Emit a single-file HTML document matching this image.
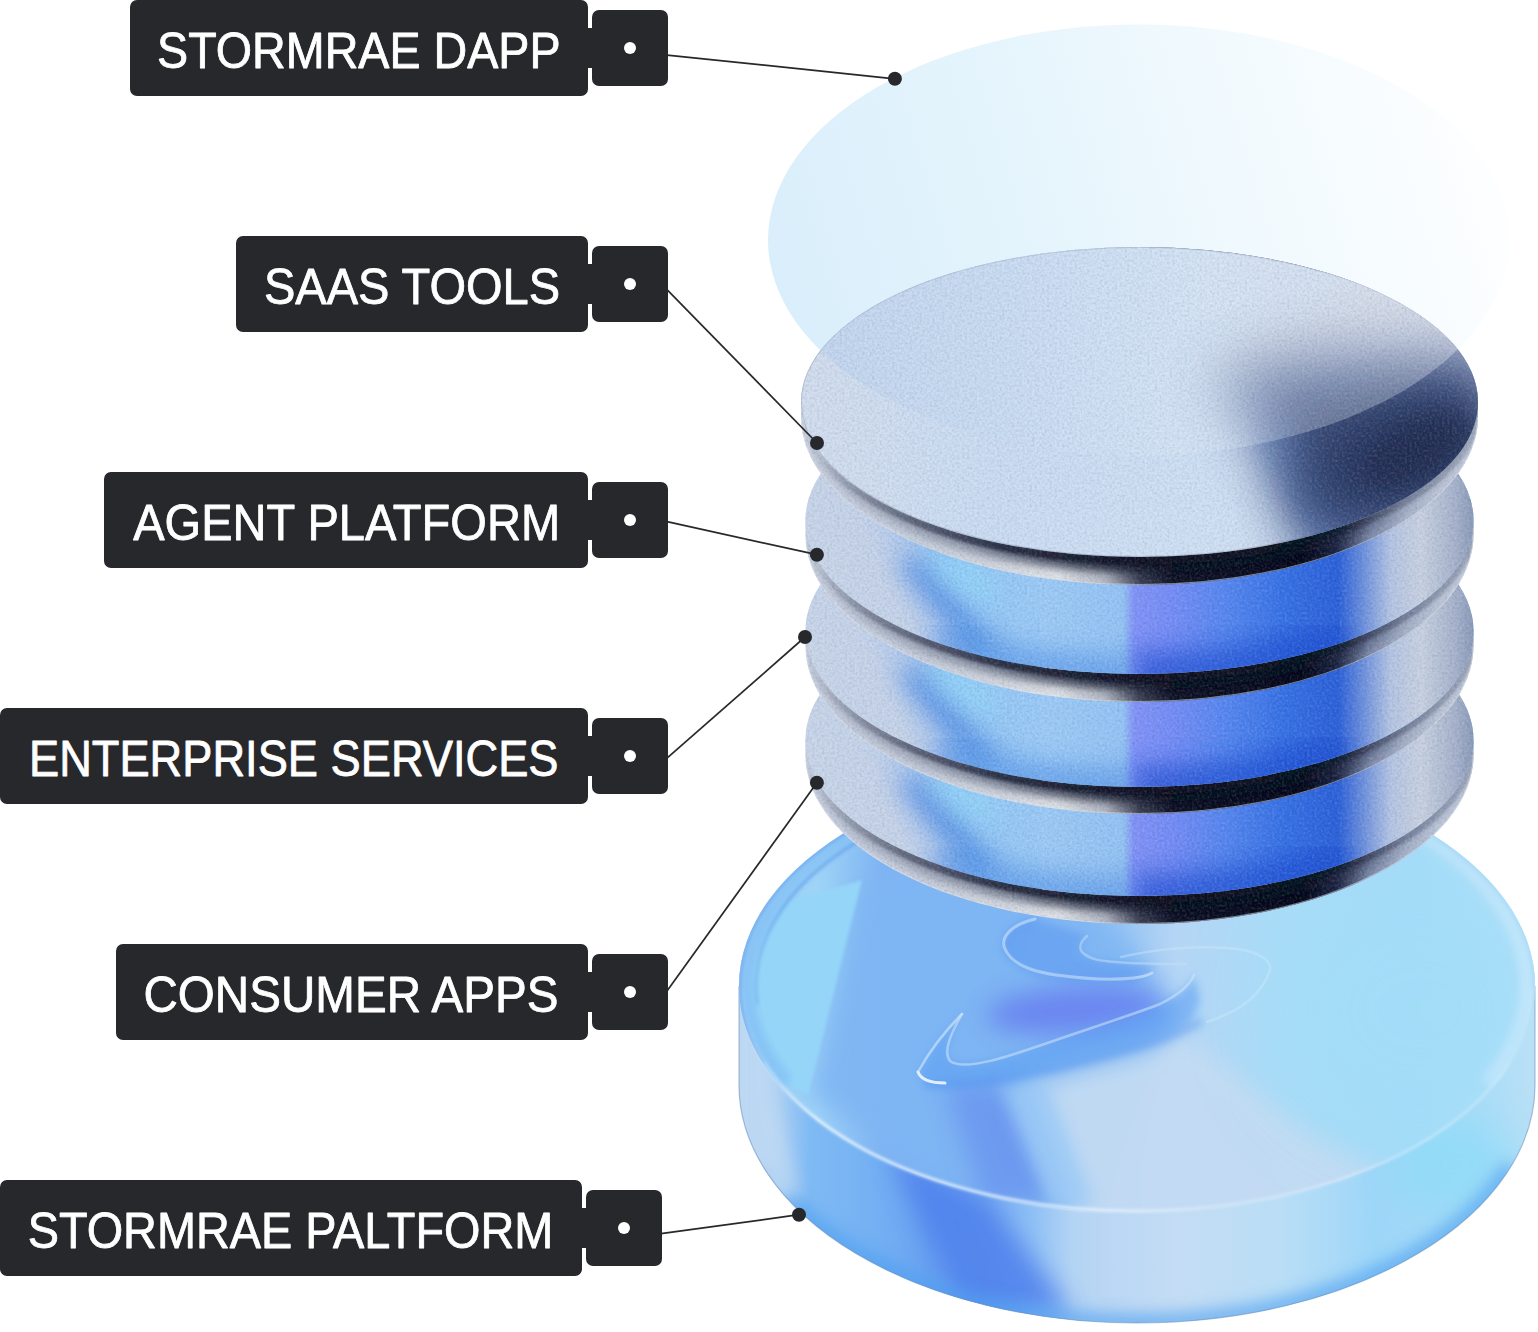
<!DOCTYPE html><html><head><meta charset="utf-8"><title>Stormrae stack</title>
<style>html,body{margin:0;padding:0;background:#fff}svg{display:block}text{font-family:"Liberation Sans",sans-serif;fill:#fff}</style></head><body>
<svg width="1538" height="1332" viewBox="0 0 1538 1332">
<defs>
<filter id="b1" x="-50%" y="-50%" width="200%" height="200%"><feGaussianBlur stdDeviation="0.7"/></filter>
<filter id="b2" x="-50%" y="-50%" width="200%" height="200%"><feGaussianBlur stdDeviation="1.5"/></filter>
<filter id="b4" x="-50%" y="-50%" width="200%" height="200%"><feGaussianBlur stdDeviation="4"/></filter>
<filter id="b8" x="-50%" y="-50%" width="200%" height="200%"><feGaussianBlur stdDeviation="8"/></filter>
<filter id="b12" x="-50%" y="-50%" width="200%" height="200%"><feGaussianBlur stdDeviation="12"/></filter>
<filter id="b20" x="-50%" y="-50%" width="200%" height="200%"><feGaussianBlur stdDeviation="20"/></filter>
<filter id="b30" x="-50%" y="-50%" width="200%" height="200%"><feGaussianBlur stdDeviation="30"/></filter>
<filter id="b45" x="-50%" y="-50%" width="200%" height="200%"><feGaussianBlur stdDeviation="45"/></filter>
<linearGradient id="rim" gradientUnits="userSpaceOnUse" x1="801" y1="0" x2="1478" y2="0">
<stop offset="0" stop-color="#d3dbe9"/>
<stop offset="0.08" stop-color="#cdd5e4"/>
<stop offset="0.18" stop-color="#c8d0dd"/>
<stop offset="0.28" stop-color="#d2d7e0"/>
<stop offset="0.38" stop-color="#e0e3e8"/>
<stop offset="0.45" stop-color="#b2b7c2"/>
<stop offset="0.50" stop-color="#3b4052"/>
<stop offset="0.55" stop-color="#0c1024"/>
<stop offset="0.74" stop-color="#04071a"/>
<stop offset="0.79" stop-color="#1a2340"/>
<stop offset="0.84" stop-color="#7f8cab"/>
<stop offset="0.89" stop-color="#a7b3ca"/>
<stop offset="0.94" stop-color="#bec8da"/>
<stop offset="1" stop-color="#c6cfdf"/>
</linearGradient>
<linearGradient id="rimtop" gradientUnits="userSpaceOnUse" x1="801" y1="0" x2="1478" y2="0">
<stop offset="0" stop-color="#8d99b0" stop-opacity="0.1"/>
<stop offset="0.08" stop-color="#7c879d" stop-opacity="0.4"/>
<stop offset="0.25" stop-color="#5b657c" stop-opacity="0.65"/>
<stop offset="0.36" stop-color="#3b4358" stop-opacity="0.85"/>
<stop offset="0.46" stop-color="#1c2236" stop-opacity="0.95"/>
<stop offset="0.55" stop-color="#060a1c" stop-opacity="1"/>
<stop offset="0.74" stop-color="#04071a" stop-opacity="1"/>
<stop offset="0.82" stop-color="#2a3350" stop-opacity="0.5"/>
<stop offset="0.90" stop-color="#6f7c9a" stop-opacity="0.15"/>
<stop offset="1" stop-color="#6f7c9a" stop-opacity="0.05"/>
</linearGradient>
<linearGradient id="rimthin" gradientUnits="userSpaceOnUse" x1="801" y1="0" x2="1478" y2="0">
<stop offset="0" stop-color="#2a3048" stop-opacity="0"/>
<stop offset="0.06" stop-color="#2a3048" stop-opacity="0.2"/>
<stop offset="0.15" stop-color="#262c44" stop-opacity="0.48"/>
<stop offset="0.30" stop-color="#1a2036" stop-opacity="0.85"/>
<stop offset="0.5" stop-color="#0a0e20" stop-opacity="0.9"/>
<stop offset="0.8" stop-color="#0a0e20" stop-opacity="0.5"/>
<stop offset="0.9" stop-color="#2a3350" stop-opacity="0.35"/>
<stop offset="1" stop-color="#4a5572" stop-opacity="0.3"/>
</linearGradient>
<linearGradient id="cresL" gradientUnits="userSpaceOnUse" x1="800" y1="80" x2="1100" y2="-40">
<stop offset="0" stop-color="#cad7ea"/>
<stop offset="0.27" stop-color="#c6d4ea"/>
<stop offset="0.36" stop-color="#b2cbef"/>
<stop offset="0.46" stop-color="#94c6f6"/>
<stop offset="0.60" stop-color="#98c9f7"/>
<stop offset="1" stop-color="#9ccbf7"/>
</linearGradient>
<linearGradient id="cresR" gradientUnits="userSpaceOnUse" x1="1040" y1="0" x2="1478" y2="0">
<stop offset="0" stop-color="#9ccbf7"/>
<stop offset="0.19" stop-color="#93c3f5"/>
<stop offset="0.215" stop-color="#8092f8"/>
<stop offset="0.30" stop-color="#748cf7"/>
<stop offset="0.42" stop-color="#5586f0"/>
<stop offset="0.56" stop-color="#3570e6"/>
<stop offset="0.68" stop-color="#2a60da"/>
<stop offset="0.74" stop-color="#6f92de"/>
<stop offset="0.80" stop-color="#b4c5e4"/>
<stop offset="0.87" stop-color="#c9d2e2"/>
<stop offset="0.95" stop-color="#a5b2cb"/>
<stop offset="1" stop-color="#8393b4"/>
</linearGradient>
<linearGradient id="face1" gradientUnits="userSpaceOnUse" x1="801" y1="0" x2="1478" y2="0">
<stop offset="0" stop-color="#d2deef"/>
<stop offset="0.3" stop-color="#cbddf3"/>
<stop offset="0.6" stop-color="#cfe0f4"/>
<stop offset="1" stop-color="#cad5e8"/>
</linearGradient>
<linearGradient id="glass" gradientUnits="userSpaceOnUse" x1="780" y1="330" x2="1480" y2="120">
<stop offset="0" stop-color="#d9eefb"/>
<stop offset="0.35" stop-color="#e4f4fc"/>
<stop offset="0.7" stop-color="#f2fafe"/>
<stop offset="1" stop-color="#fdfeff"/>
</linearGradient>
<linearGradient id="glassov" gradientUnits="userSpaceOnUse" x1="800" y1="0" x2="1480" y2="0">
<stop offset="0" stop-color="#a9c9ee" stop-opacity="0.4"/>
<stop offset="0.35" stop-color="#c9def4" stop-opacity="0.32"/>
<stop offset="0.6" stop-color="#e6f0fa" stop-opacity="0.24"/>
<stop offset="1" stop-color="#f0f4fa" stop-opacity="0.34"/>
</linearGradient>
<linearGradient id="bside" gradientUnits="userSpaceOnUse" x1="738" y1="0" x2="1536" y2="0">
<stop offset="0" stop-color="#b4d3f2"/>
<stop offset="0.05" stop-color="#a9cef3"/>
<stop offset="0.09" stop-color="#80baf4"/>
<stop offset="0.17" stop-color="#74b0f3"/>
<stop offset="0.24" stop-color="#6aa4f1"/>
<stop offset="0.31" stop-color="#74aaf2"/>
<stop offset="0.37" stop-color="#8fc0f5"/>
<stop offset="0.42" stop-color="#b4d4f4"/>
<stop offset="0.55" stop-color="#c4dcf4"/>
<stop offset="0.68" stop-color="#b9def6"/>
<stop offset="0.80" stop-color="#9dd6f8"/>
<stop offset="0.92" stop-color="#a9dcf8"/>
<stop offset="1" stop-color="#b9e0f6"/>
</linearGradient>
<linearGradient id="btop" gradientUnits="userSpaceOnUse" x1="738" y1="0" x2="1536" y2="0">
<stop offset="0" stop-color="#9dcff6"/>
<stop offset="0.10" stop-color="#9fd4f7"/>
<stop offset="0.18" stop-color="#7fb4f3"/>
<stop offset="0.32" stop-color="#78aef3"/>
<stop offset="0.45" stop-color="#8fbff4"/>
<stop offset="0.55" stop-color="#b5d6f5"/>
<stop offset="0.68" stop-color="#a9dcf7"/>
<stop offset="0.85" stop-color="#a4dcf8"/>
<stop offset="1" stop-color="#b0e0f8"/>
</linearGradient>
<linearGradient id="hl" gradientUnits="userSpaceOnUse" x1="738" y1="0" x2="1536" y2="0">
<stop offset="0" stop-color="#eaf5fd" stop-opacity="0"/>
<stop offset="0.03" stop-color="#eaf5fd" stop-opacity="0.35"/>
<stop offset="0.1" stop-color="#eaf5fd" stop-opacity="0.9"/>
<stop offset="0.45" stop-color="#eaf5fd" stop-opacity="0.85"/>
<stop offset="0.6" stop-color="#eaf5fd" stop-opacity="0.45"/>
<stop offset="1" stop-color="#eaf5fd" stop-opacity="0.3"/>
</linearGradient>
<linearGradient id="ringA" gradientUnits="userSpaceOnUse" x1="738" y1="0" x2="1536" y2="0">
<stop offset="0" stop-color="#84c0f5" stop-opacity="0.85"/>
<stop offset="0.45" stop-color="#8cc6f6" stop-opacity="0.8"/>
<stop offset="0.75" stop-color="#b5e0f9" stop-opacity="0.75"/>
<stop offset="1" stop-color="#c6e8fb" stop-opacity="0.8"/>
</linearGradient>
<linearGradient id="ringB" gradientUnits="userSpaceOnUse" x1="738" y1="0" x2="1536" y2="0">
<stop offset="0" stop-color="#5a96e6" stop-opacity="0.1"/>
<stop offset="0.06" stop-color="#5a96e6" stop-opacity="0.5"/>
<stop offset="0.4" stop-color="#5a96e6" stop-opacity="0.45"/>
<stop offset="0.7" stop-color="#7ab6ee" stop-opacity="0.1"/>
<stop offset="1" stop-color="#7ab6ee" stop-opacity="0"/>
</linearGradient>
<linearGradient id="ringC" gradientUnits="userSpaceOnUse" x1="738" y1="0" x2="1536" y2="0">
<stop offset="0" stop-color="#6aa4ea" stop-opacity="0.7"/>
<stop offset="0.4" stop-color="#6aa4ea" stop-opacity="0.55"/>
<stop offset="0.75" stop-color="#8cc6f2" stop-opacity="0.25"/>
<stop offset="1" stop-color="#9cd0f4" stop-opacity="0.3"/>
</linearGradient>
<clipPath id="cf0"><ellipse cx="1139.5" cy="402" rx="338.5" ry="155"/></clipPath>
<clipPath id="cf1"><ellipse cx="1139.5" cy="520" rx="334" ry="154"/></clipPath>
<clipPath id="cf2"><ellipse cx="1139.5" cy="631" rx="334" ry="156"/></clipPath>
<clipPath id="cf3"><ellipse cx="1139.5" cy="740" rx="334" ry="156"/></clipPath>
<clipPath id="cfl0"><ellipse cx="1139.5" cy="0" rx="338.5" ry="155"/></clipPath>
<clipPath id="cfl1"><ellipse cx="1139.5" cy="0" rx="334" ry="154"/></clipPath>
<clipPath id="cfl2"><ellipse cx="1139.5" cy="0" rx="334" ry="156"/></clipPath>
<clipPath id="cfl3"><ellipse cx="1139.5" cy="0" rx="334" ry="156"/></clipPath>
<clipPath id="cbt"><ellipse cx="1137" cy="986" rx="398" ry="226"/></clipPath>
<clipPath id="cbody"><path d="M739,986 V1085 A398,238 0 0 0 1535,1085 V986 A398,226 0 0 0 739,986 Z"/></clipPath>
<filter id="grain" x="0" y="0" width="100%" height="100%" color-interpolation-filters="sRGB">
<feTurbulence type="fractalNoise" baseFrequency="0.4" numOctaves="2" seed="7" result="n"/>
<feColorMatrix in="n" type="matrix" values="0 0 0 0 0.05  0 0 0 0 0.08  0 0 0 0 0.2  1.5 1.5 0 0 -1.25"/>
</filter>
<filter id="grainW" x="0" y="0" width="100%" height="100%" color-interpolation-filters="sRGB">
<feTurbulence type="fractalNoise" baseFrequency="0.4" numOctaves="2" seed="23" result="n"/>
<feColorMatrix in="n" type="matrix" values="0 0 0 0 1  0 0 0 0 1  0 0 0 0 1  1.5 1.5 0 0 -1.25"/>
</filter>
</defs>
<ellipse cx="1138.5" cy="240" rx="370.5" ry="215.5" fill="url(#glass)"/>
<g clip-path="url(#cbody)">
<rect x="700" y="760" width="860" height="600" fill="url(#bside)"/>
<path d="M888,1150 L985,1198 L1072,1312 L960,1312 Z" fill="#4f80ec" opacity="0.85" filter="url(#b12)"/>
<ellipse cx="1455" cy="1165" rx="60" ry="45" fill="#8adcf8" opacity="0.7" filter="url(#b20)"/>
<path d="M763.0,1166.4 A398,238 0 0 0 1511.0,1166.4" fill="none" stroke="#4e9ff0" stroke-width="16" opacity="0.75" filter="url(#b8)"/>
<path d="M730,985 L770,1000 L776,1100 L798,1195 L730,1215 Z" fill="#bfd9f3" opacity="0.85" filter="url(#b8)"/>
</g>
<path d="M739,986 V1085 A398,238 0 0 0 1535,1085 V986" fill="none" stroke="#6a8fc0" stroke-width="1.2" opacity="0.55"/>
<ellipse cx="1137" cy="986" rx="398" ry="226" fill="url(#btop)"/>
<g clip-path="url(#cbt)">
<path d="M862,880 L1010,850 L1130,940 L1180,1020 L1085,1215 L960,1190 L808,1095 Z" fill="#7fb6f3" opacity="0.9" filter="url(#b12)"/>
<path d="M740,1000 L775,905 L862,880 L808,1095 L760,1070 Z" fill="#95d6f8" opacity="0.95" filter="url(#b2)"/>
<ellipse cx="1075" cy="1010" rx="88" ry="24" transform="rotate(-4 1075 1010)" fill="#6982f0" opacity="0.9" filter="url(#b12)"/>
<path d="M945,1085 L1012,1085 L1064,1200 L985,1205 Z" fill="#6a95ef" opacity="0.85" filter="url(#b12)"/>
<path d="M1030,1084 L1130,1057 L1190,1036 L1300,1126 L1440,1207 L1440,1290 L1078,1290 L1070,1201 Z" fill="#c3dbf3" opacity="0.95" filter="url(#b12)"/>
<path d="M1000,1086 L1045,1080 L1095,1205 L1050,1208 Z" fill="#9ccaf6" opacity="0.8" filter="url(#b8)"/>
<ellipse cx="1420" cy="1010" rx="140" ry="120" fill="#a2ddf8" opacity="0.7" filter="url(#b45)"/>
</g>
<g clip-path="url(#cbt)">
<path d="M783.5,1079.0 A390,220 0 1 1 1490.5,1079.0" fill="none" stroke="url(#ringA)" stroke-width="15" stroke-linecap="round" filter="url(#b4)"/>
<path d="M757.4,1004.6 A381,213 0 1 1 1516.6,1004.6" fill="none" stroke="url(#ringB)" stroke-width="3.5" filter="url(#b2)"/>
<path d="M763.9,1063.0 A397,225 0 1 1 1510.1,1063.0" fill="none" stroke="url(#ringC)" stroke-width="3" filter="url(#b2)"/>
</g>
<path d="M742,989 A395,222 0 0 0 1532,989" fill="none" stroke="url(#hl)" stroke-width="3" filter="url(#b2)"/>
<g fill="none" stroke-linecap="round" stroke-linejoin="round">
<path d="M918,1073 C930,1050 948,1028 962,1014 C950,1035 944,1052 950,1060 C965,1072 1010,1055 1056,1040 C1100,1025 1140,1012 1160,1004 C1180,994 1190,985 1194,975 L1200,1000 C1195,1015 1190,1022 1186,1025 C1170,1034 1150,1041 1134,1046 C1100,1056 1060,1066 1030,1072 C990,1080 950,1086 926,1082 Z" fill="#5b9ff3" stroke="none" opacity="0.55" filter="url(#b4)"/>
<path d="M926,1084 C960,1088 1000,1080 1032,1074 C1070,1066 1105,1057 1136,1048 C1160,1041 1180,1034 1200,1022" stroke="#3f86ee" stroke-width="5" opacity="0.55" filter="url(#b4)"/>
<path d="M918,1072 C921,1080 930,1083 945,1083" stroke="#eef7fe" stroke-width="3" opacity="0.9"/>
<path d="M918,1072 C930,1050 948,1028 962,1014" stroke="#d6eafb" stroke-width="2.5" opacity="0.6" filter="url(#b1)"/>
<path d="M962,1014 C950,1035 943,1052 950,1061 C965,1072 1010,1056 1056,1040 C1100,1025 1140,1012 1160,1004 C1180,994 1190,985 1194,975" stroke="#cfe6fa" stroke-width="2.5" opacity="0.55" filter="url(#b1)"/>
<path d="M1035,919 C1010,925 1000,938 1005,949 C1012,965 1035,972 1056,975 C1085,979 1115,980 1134,978 C1142,977 1148,975 1152,973 L1150,966 C1140,966 1128,964 1116,962 C1102,961 1090,960 1082,952 C1079,948 1080,942 1087,936 Z" fill="#5a96f0" stroke="none" opacity="0.5" filter="url(#b4)"/>
<path d="M1035,919 C1010,925 1000,938 1005,949 C1012,965 1035,972 1056,975 C1085,979 1115,980 1134,978 C1142,977 1148,975 1152,973" stroke="#d3e9fb" stroke-width="3" opacity="0.65" filter="url(#b1)"/>
<path d="M1035,922 C1012,928 1003,940 1008,951 C1015,967 1037,975 1058,978 C1087,982 1117,983 1136,981" stroke="#4f8cf0" stroke-width="5" opacity="0.35" filter="url(#b4)"/>
<path d="M1087,936 C1080,942 1079,948 1082,952 C1090,960 1102,961 1116,962 C1140,964 1165,964 1186,964" stroke="#c5e0f8" stroke-width="2.5" opacity="0.5" filter="url(#b1)"/>
<path d="M1121,957 C1160,948 1205,945 1238,949 C1262,953 1274,962 1269,973 C1265,984 1258,992 1251,999 C1238,1010 1222,1017 1207,1022" stroke="#d0eafb" stroke-width="2.5" opacity="0.4" filter="url(#b1)"/>
</g>
<clipPath id="cr3"><path d="M805.5,740 V755 A334,169 0 0 0 1473.5,755 V740 A334,156 0 0 0 805.5,740 Z"/></clipPath>
<path d="M805.5,740 V755 A334,169 0 0 0 1473.5,755 V740 A334,156 0 0 0 805.5,740 Z" fill="url(#rim)"/>
<g clip-path="url(#cr3)"><path d="M805.5,743 A334,160 0 0 0 1473.5,743" fill="none" stroke="url(#rimtop)" stroke-width="17.36" filter="url(#b4)"/>
<path d="M805.5,741 A334,158 0 0 0 1473.5,741" fill="none" stroke="url(#rimthin)" stroke-width="9.520000000000001" filter="url(#b2)"/>
<path d="M805.5,755 A334,169 0 0 0 1473.5,755" fill="none" stroke="#dfe4ec" stroke-width="2" opacity="0.55"/></g>
<g transform="translate(0,740)"><ellipse cx="1139.5" cy="0" rx="334" ry="156" fill="url(#cresL)"/>
<g clip-path="url(#cfl3)"><rect x="1040" y="-200" width="500" height="400" fill="url(#cresR)"/>
<path d="M896,40 L926,40 L1000,132 L970,132 Z" fill="#4a89e4" opacity="0.85" filter="url(#b12)"/>
<ellipse cx="965" cy="58" rx="42" ry="14" transform="rotate(36 965 58)" fill="#93d7fb" opacity="0.9" filter="url(#b12)"/>
<path d="M1134,156.0 A334,156 0 0 0 1345,123.0" fill="none" stroke="#1c4ed2" stroke-width="44" opacity="0.7" filter="url(#b12)"/>
<path d="M935,123.3 A334,156 0 0 0 1128,155.9" fill="none" stroke="#4d8fe8" stroke-width="34" opacity="0.6" filter="url(#b12)"/>
</g></g>
<clipPath id="cr2"><path d="M805.5,631 V646 A334,168 0 0 0 1473.5,646 V631 A334,156 0 0 0 805.5,631 Z"/></clipPath>
<path d="M805.5,631 V646 A334,168 0 0 0 1473.5,646 V631 A334,156 0 0 0 805.5,631 Z" fill="url(#rim)"/>
<g clip-path="url(#cr2)"><path d="M805.5,634 A334,160 0 0 0 1473.5,634" fill="none" stroke="url(#rimtop)" stroke-width="16.74" filter="url(#b4)"/>
<path d="M805.5,632 A334,158 0 0 0 1473.5,632" fill="none" stroke="url(#rimthin)" stroke-width="9.180000000000001" filter="url(#b2)"/>
<path d="M805.5,646 A334,168 0 0 0 1473.5,646" fill="none" stroke="#dfe4ec" stroke-width="2" opacity="0.55"/></g>
<g transform="translate(0,631)"><ellipse cx="1139.5" cy="0" rx="334" ry="156" fill="url(#cresL)"/>
<g clip-path="url(#cfl2)"><rect x="1040" y="-200" width="500" height="400" fill="url(#cresR)"/>
<path d="M896,40 L926,40 L1000,132 L970,132 Z" fill="#4a89e4" opacity="0.85" filter="url(#b12)"/>
<ellipse cx="965" cy="58" rx="42" ry="14" transform="rotate(36 965 58)" fill="#93d7fb" opacity="0.9" filter="url(#b12)"/>
<path d="M1134,156.0 A334,156 0 0 0 1345,123.0" fill="none" stroke="#1c4ed2" stroke-width="44" opacity="0.7" filter="url(#b12)"/>
<path d="M935,123.3 A334,156 0 0 0 1128,155.9" fill="none" stroke="#4d8fe8" stroke-width="34" opacity="0.6" filter="url(#b12)"/>
</g></g>
<clipPath id="cr1"><path d="M805.5,520 V535 A334,167 0 0 0 1473.5,535 V520 A334,154 0 0 0 805.5,520 Z"/></clipPath>
<path d="M805.5,520 V535 A334,167 0 0 0 1473.5,535 V520 A334,154 0 0 0 805.5,520 Z" fill="url(#rim)"/>
<g clip-path="url(#cr1)"><path d="M805.5,523 A334,158 0 0 0 1473.5,523" fill="none" stroke="url(#rimtop)" stroke-width="17.36" filter="url(#b4)"/>
<path d="M805.5,521 A334,156 0 0 0 1473.5,521" fill="none" stroke="url(#rimthin)" stroke-width="9.520000000000001" filter="url(#b2)"/>
<path d="M805.5,535 A334,167 0 0 0 1473.5,535" fill="none" stroke="#dfe4ec" stroke-width="2" opacity="0.55"/></g>
<g transform="translate(0,520)"><ellipse cx="1139.5" cy="0" rx="334" ry="154" fill="url(#cresL)"/>
<g clip-path="url(#cfl1)"><rect x="1040" y="-200" width="500" height="400" fill="url(#cresR)"/>
<path d="M896,40 L926,40 L1000,132 L970,132 Z" fill="#4a89e4" opacity="0.85" filter="url(#b12)"/>
<ellipse cx="965" cy="58" rx="42" ry="14" transform="rotate(36 965 58)" fill="#93d7fb" opacity="0.9" filter="url(#b12)"/>
<path d="M1134,154.0 A334,154 0 0 0 1345,121.4" fill="none" stroke="#1c4ed2" stroke-width="44" opacity="0.7" filter="url(#b12)"/>
<path d="M935,121.8 A334,154 0 0 0 1128,153.9" fill="none" stroke="#4d8fe8" stroke-width="34" opacity="0.6" filter="url(#b12)"/>
</g></g>
<clipPath id="cr0"><path d="M801.0,402 V417 A338.5,168 0 0 0 1478.0,417 V402 A338.5,155 0 0 0 801.0,402 Z"/></clipPath>
<path d="M801.0,402 V417 A338.5,168 0 0 0 1478.0,417 V402 A338.5,155 0 0 0 801.0,402 Z" fill="url(#rim)"/>
<g clip-path="url(#cr0)"><path d="M801.0,405 A338.5,159 0 0 0 1478.0,405" fill="none" stroke="url(#rimtop)" stroke-width="17.36" filter="url(#b4)"/>
<path d="M801.0,403 A338.5,157 0 0 0 1478.0,403" fill="none" stroke="url(#rimthin)" stroke-width="9.520000000000001" filter="url(#b2)"/>
<path d="M801.0,417 A338.5,168 0 0 0 1478.0,417" fill="none" stroke="#dfe4ec" stroke-width="2" opacity="0.55"/></g>
<ellipse cx="1139.5" cy="402" rx="338.5" ry="155" fill="url(#face1)"/>
<ellipse cx="1139.5" cy="402" rx="338.0" ry="154.5" fill="none" stroke="#8f9bb2" stroke-width="1" opacity="0.45"/>
<g clip-path="url(#cf0)">
<path d="M1200,380 L1400,250 L1500,330 L1480,380 Z" fill="#d0d6e2" opacity="0.6" filter="url(#b20)"/>
<path d="M1215,375 L1330,352 L1500,350 L1500,495 L1365,572 L1325,568 L1268,440 Z" fill="#43578a" opacity="0.9" filter="url(#b30)"/>
<path d="M1255,420 L1300,430 L1375,560 L1318,566 Z" fill="#4a6cb2" opacity="0.6" filter="url(#b20)"/>
<path d="M1285,408 L1400,392 L1465,392 L1480,470 L1320,480 Z" fill="#34446e" opacity="0.6" filter="url(#b20)"/>
<ellipse cx="1395" cy="462" rx="105" ry="55" transform="rotate(-22 1395 462)" fill="#22305a" opacity="0.85" filter="url(#b30)"/>
<ellipse cx="1420" cy="450" rx="60" ry="30" transform="rotate(-28 1420 450)" fill="#1c2848" opacity="0.6" filter="url(#b12)"/>
</g>
<g clip-path="url(#cf0)"><ellipse cx="1138.5" cy="240" rx="370.5" ry="215.5" fill="url(#glassov)"/></g>
<clipPath id="cstack">
<path d="M801.0,402 V417 A338.5,168 0 0 0 1478.0,417 V402 A338.5,155 0 0 0 801.0,402 Z"/>
<ellipse cx="1139.5" cy="402" rx="338.5" ry="155"/>
<path d="M805.5,520 V535 A334,167 0 0 0 1473.5,535 V520 A334,154 0 0 0 805.5,520 Z"/>
<ellipse cx="1139.5" cy="520" rx="334" ry="154"/>
<path d="M805.5,631 V646 A334,168 0 0 0 1473.5,646 V631 A334,156 0 0 0 805.5,631 Z"/>
<ellipse cx="1139.5" cy="631" rx="334" ry="156"/>
<path d="M805.5,740 V755 A334,169 0 0 0 1473.5,755 V740 A334,156 0 0 0 805.5,740 Z"/>
<ellipse cx="1139.5" cy="740" rx="334" ry="156"/>
</clipPath>
<g clip-path="url(#cstack)"><rect x="790" y="240" width="700" height="700" filter="url(#grain)" fill="#000" opacity="0.10"/>
<rect x="790" y="240" width="700" height="700" filter="url(#grainW)" fill="#fff" opacity="0.13"/></g>
<line x1="667" y1="55.1" x2="894.9" y2="78.8" stroke="#27282c" stroke-width="1.7"/>
<circle cx="894.9" cy="78.8" r="7" fill="#27282c"/>
<line x1="667" y1="289.6" x2="817" y2="443" stroke="#27282c" stroke-width="1.7"/>
<circle cx="817" cy="443" r="7" fill="#27282c"/>
<line x1="667" y1="521.6" x2="816.9" y2="554.7" stroke="#27282c" stroke-width="1.7"/>
<circle cx="816.9" cy="554.7" r="7" fill="#27282c"/>
<line x1="667" y1="758.2" x2="805" y2="637" stroke="#27282c" stroke-width="1.7"/>
<circle cx="805" cy="637" r="7" fill="#27282c"/>
<line x1="667" y1="991" x2="816.9" y2="782.7" stroke="#27282c" stroke-width="1.7"/>
<circle cx="816.9" cy="782.7" r="7" fill="#27282c"/>
<line x1="661" y1="1233.7" x2="799" y2="1214.7" stroke="#27282c" stroke-width="1.7"/>
<circle cx="799" cy="1214.7" r="7" fill="#27282c"/>
<rect x="130" y="0" width="458" height="96" rx="7" fill="#27282c"/>
<rect x="584" y="28" width="12" height="40" fill="#27282c"/>
<rect x="592" y="10" width="76" height="76" rx="7" fill="#27282c"/>
<circle cx="630" cy="48" r="6" fill="#fff"/>
<text x="157.1" y="68.2" font-size="49.8" textLength="403.4" lengthAdjust="spacingAndGlyphs" stroke="#fff" stroke-width="0.8" stroke-linejoin="round">STORMRAE DAPP</text>
<rect x="236" y="236" width="352" height="96" rx="7" fill="#27282c"/>
<rect x="584" y="264" width="12" height="40" fill="#27282c"/>
<rect x="592" y="246" width="76" height="76" rx="7" fill="#27282c"/>
<circle cx="630" cy="284" r="6" fill="#fff"/>
<text x="264.0" y="304.2" font-size="49.8" textLength="296.1" lengthAdjust="spacingAndGlyphs" stroke="#fff" stroke-width="0.8" stroke-linejoin="round">SAAS TOOLS</text>
<rect x="104" y="472" width="484" height="96" rx="7" fill="#27282c"/>
<rect x="584" y="500" width="12" height="40" fill="#27282c"/>
<rect x="592" y="482" width="76" height="76" rx="7" fill="#27282c"/>
<circle cx="630" cy="520" r="6" fill="#fff"/>
<text x="133.2" y="540.2" font-size="49.8" textLength="426.9" lengthAdjust="spacingAndGlyphs" stroke="#fff" stroke-width="0.8" stroke-linejoin="round">AGENT PLATFORM</text>
<rect x="0" y="708" width="588" height="96" rx="7" fill="#27282c"/>
<rect x="584" y="736" width="12" height="40" fill="#27282c"/>
<rect x="592" y="718" width="76" height="76" rx="7" fill="#27282c"/>
<circle cx="630" cy="756" r="6" fill="#fff"/>
<text x="29.0" y="776.2" font-size="49.8" textLength="529.5" lengthAdjust="spacingAndGlyphs" stroke="#fff" stroke-width="0.8" stroke-linejoin="round">ENTERPRISE SERVICES</text>
<rect x="116" y="944" width="472" height="96" rx="7" fill="#27282c"/>
<rect x="584" y="972" width="12" height="40" fill="#27282c"/>
<rect x="592" y="954" width="76" height="76" rx="7" fill="#27282c"/>
<circle cx="630" cy="992" r="6" fill="#fff"/>
<text x="143.5" y="1012.2" font-size="49.8" textLength="415.0" lengthAdjust="spacingAndGlyphs" stroke="#fff" stroke-width="0.8" stroke-linejoin="round">CONSUMER APPS</text>
<rect x="0" y="1180" width="582" height="96" rx="7" fill="#27282c"/>
<rect x="578" y="1208" width="12" height="40" fill="#27282c"/>
<rect x="586" y="1190" width="76" height="76" rx="7" fill="#27282c"/>
<circle cx="624" cy="1228" r="6" fill="#fff"/>
<text x="27.7" y="1248.2" font-size="49.8" textLength="525.6" lengthAdjust="spacingAndGlyphs" stroke="#fff" stroke-width="0.8" stroke-linejoin="round">STORMRAE PALTFORM</text>
</svg></body></html>
